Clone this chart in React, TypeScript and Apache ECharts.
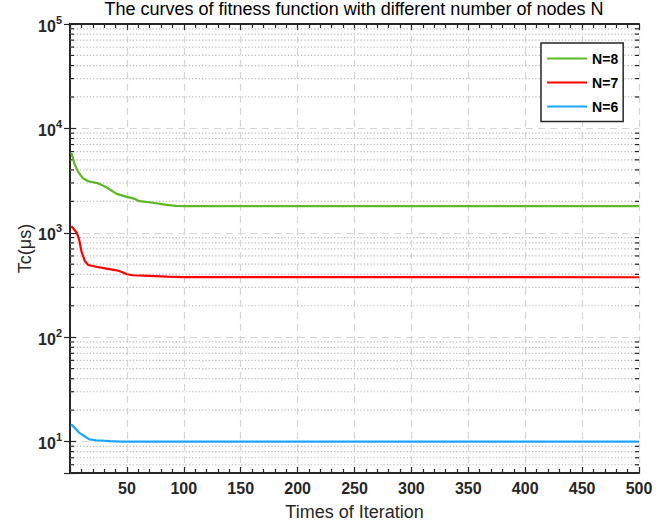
import React, { useEffect, useRef } from "react";
import * as echarts from "echarts";

const TITLE = "The curves of fitness function with different number of nodes N";
const X_NAME = "Times of Iteration";
const Y_NAME = "Tc(μs)";

const seriesNames = ["N=8", "N=7", "N=6"];
const seriesColors = ["#5cb824", "#ff0000", "#1aa3ff"];

const n8Iter = [1, 2, 4, 7, 11, 16, 25, 32, 41, 50, 57, 61, 73, 85, 93, 100, 500];
const n8Vals = [5800, 5500, 4500, 3880, 3350, 3120, 2970, 2730, 2360, 2210, 2110, 2010, 1940, 1850, 1810, 1800, 1800];

const n7Iter = [1, 2, 6, 8, 10, 13, 16, 23, 32, 41, 45, 50, 55, 70, 85, 100, 500];
const n7Vals = [1150, 1130, 1000, 865, 668, 537, 491, 473, 453, 437, 424, 401, 392, 386, 380, 376, 375];

const n6Iter = [1, 4, 8, 13, 17, 23, 35, 45, 500];
const n6Vals = [14.6, 13.6, 12.2, 11.2, 10.5, 10.3, 10.1, 10.0, 10.0];

const xMin = 0;
const xMax = 500;
const xInterval = 50;
const yMin = 5;
const yMax = 100000;

const yMinorValues = [
  6, 7, 8, 9,
  20, 30, 40, 50, 60, 70, 80, 90,
  200, 300, 400, 500, 600, 700, 800, 900,
  2000, 3000, 4000, 5000, 6000, 7000, 8000, 9000,
  20000, 30000, 40000, 50000, 60000, 70000, 80000, 90000,
];

const FONT = "'Liberation Sans', Arial, Helvetica, sans-serif";
const AXIS_COLOR = "#262626";

export default function App() {
  const ref = useRef<HTMLDivElement>(null);

  useEffect(() => {
    if (!ref.current) return;
    const chart = echarts.init(ref.current, undefined, { renderer: "svg" });

    const pairs = (xs: number[], ys: number[]) => xs.map((x, i) => [x, ys[i]]);
    const lineData = [pairs(n8Iter, n8Vals), pairs(n7Iter, n7Vals), pairs(n6Iter, n6Vals)];

    const yLabelFormatter = (v: number) => {
      const e = Math.round(Math.log10(v));
      if (Math.abs(Math.pow(10, e) - v) > 1e-6 * v) return "";
      return `{b|10}{s|${e}}`;
    };

    const option: any = {
      animation: false,
      textStyle: { fontFamily: FONT },
      title: {
        text: TITLE,
        left: 354,
        top: 0,
        padding: 0,
        textAlign: "center",
        textStyle: { fontSize: 18, fontWeight: "normal", color: "#000", fontFamily: FONT },
      },
      legend: {
        data: seriesNames,
        orient: "vertical",
        left: 541,
        top: 43,
        itemWidth: 40,
        itemHeight: 14,
        itemGap: 10,
        padding: [8.5, 5, 8, 5],
        borderColor: AXIS_COLOR,
        borderWidth: 1.5,
        borderRadius: 0,
        backgroundColor: "#fff",
        selectedMode: false,
        itemStyle: { opacity: 0 },
        lineStyle: { width: 2.2 },
        textStyle: { fontSize: 14, fontWeight: "bold", color: "#000", lineHeight: 14, fontFamily: FONT },
      },
      grid: { left: 70, right: 32, top: 24, bottom: 54 },
      xAxis: [
        {
          type: "value",
          position: "bottom",
          min: xMin,
          max: xMax,
          interval: xInterval,
          name: X_NAME,
          nameLocation: "middle",
          nameGap: 30,
          nameMoveOverlap: false,
          nameTextStyle: { fontSize: 18, color: AXIS_COLOR, fontFamily: FONT },
          axisLine: { show: true, lineStyle: { color: AXIS_COLOR, width: 2 } },
          axisTick: { show: true, inside: true, length: 6, lineStyle: { color: AXIS_COLOR, width: 1.2 } },
          minorTick: { show: true, splitNumber: 5, length: 4, lineStyle: { color: AXIS_COLOR, width: 1.2 } },
          axisLabel: {
            show: true,
            margin: 7,
            fontSize: 16,
            fontWeight: "bold",
            color: AXIS_COLOR,
            fontFamily: FONT,
            formatter: (v: number) => (v === 0 ? "" : String(v)),
          },
          splitLine: { show: true, lineStyle: { color: "#d6d6d6", type: [7, 5], width: 1.2 } },
          minorSplitLine: { show: false },
        },
        {
          type: "value",
          position: "top",
          min: xMin,
          max: xMax,
          interval: xInterval,
          axisLine: { show: true, lineStyle: { color: AXIS_COLOR, width: 2 } },
          axisTick: { show: true, inside: true, length: 6, lineStyle: { color: AXIS_COLOR, width: 1.2 } },
          minorTick: { show: true, splitNumber: 5, length: 4, lineStyle: { color: AXIS_COLOR, width: 1.2 } },
          axisLabel: { show: false },
          splitLine: { show: false },
        },
      ],
      yAxis: [
        {
          type: "log",
          logBase: 10,
          position: "left",
          min: yMin,
          max: yMax,
          name: Y_NAME,
          nameLocation: "middle",
          nameGap: 36,
          nameMoveOverlap: false,
          nameTextStyle: { fontSize: 18, color: AXIS_COLOR, fontFamily: FONT },
          axisLine: { show: true, lineStyle: { color: AXIS_COLOR, width: 2 } },
          axisTick: { show: true, inside: true, length: 6, lineStyle: { color: AXIS_COLOR, width: 1.2 } },
          axisLabel: {
            show: true,
            margin: 8,
            color: AXIS_COLOR,
            fontFamily: FONT,
            formatter: yLabelFormatter,
            rich: {
              b: { fontSize: 16, fontWeight: "bold", color: AXIS_COLOR, fontFamily: FONT, lineHeight: 20, verticalAlign: "bottom" },
              s: { fontSize: 11, fontWeight: "bold", color: AXIS_COLOR, fontFamily: FONT, lineHeight: 12, verticalAlign: "top" },
            },
          },
          splitLine: { show: true, lineStyle: { color: "#d6d6d6", type: [7, 5], width: 1.2 } },
        },
        {
          type: "log",
          logBase: 10,
          position: "right",
          min: yMin,
          max: yMax,
          axisLine: { show: true, lineStyle: { color: AXIS_COLOR, width: 2 } },
          axisTick: { show: true, inside: true, length: 6, lineStyle: { color: AXIS_COLOR, width: 1.2 } },
          axisLabel: { show: false },
          splitLine: { show: false },
        },
      ],
      series: [
        {
          type: "custom",
          name: "minor",
          xAxisIndex: 0,
          yAxisIndex: 0,
          silent: true,
          z: 1,
          data: yMinorValues.map((v) => [xMin, v]),
          renderItem: (params: any, api: any) => {
            const cs = params.coordSys;
            const y = api.coord([xMin, api.value(1)])[1];
            return {
              type: "group",
              children: [
                {
                  type: "line",
                  shape: { x1: cs.x, y1: y, x2: cs.x + cs.width, y2: y },
                  style: { stroke: "#bdbdbd", lineWidth: 1.2, lineDash: [1.3, 2] },
                },
                {
                  type: "line",
                  shape: { x1: cs.x, y1: y, x2: cs.x + 4, y2: y },
                  style: { stroke: AXIS_COLOR, lineWidth: 1.2 },
                },
                {
                  type: "line",
                  shape: { x1: cs.x + cs.width - 4, y1: y, x2: cs.x + cs.width, y2: y },
                  style: { stroke: AXIS_COLOR, lineWidth: 1.2 },
                },
              ],
            };
          },
        },
        ...seriesNames.map((name, i) => ({
          type: "line",
          name,
          xAxisIndex: 0,
          yAxisIndex: 0,
          data: lineData[i],
          symbol: "none",
          showSymbol: false,
          smooth: false,
          z: 3,
          lineStyle: { width: 2.2, color: seriesColors[i] },
          itemStyle: { color: seriesColors[i] },
        })),
      ],
    };

    chart.setOption(option);
    return () => chart.dispose();
  }, []);

  return (
    <div
      ref={ref}
      style={{ position: "absolute", left: 0, top: 0, width: 671, height: 527, background: "#fff" }}
    />
  );
}
